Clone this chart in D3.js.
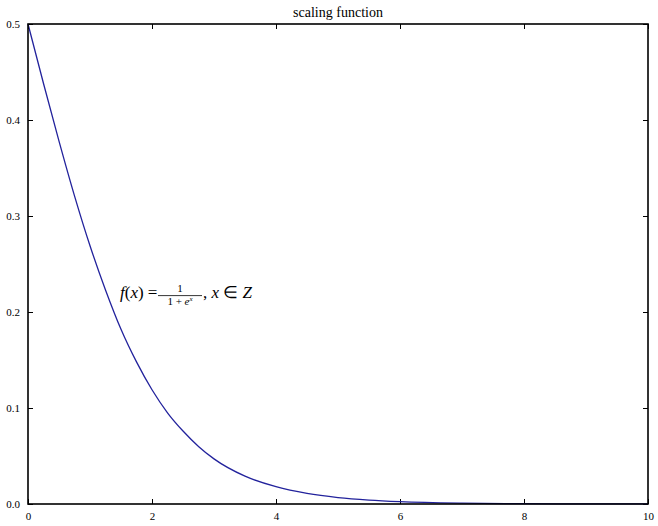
<!DOCTYPE html>
<html>
<head>
<meta charset="utf-8">
<script src="https://cdn.jsdelivr.net/npm/d3@7"></script>
<style>
body { margin: 0; background: #fff; }
text { font-family: "Times New Roman", Times, serif; }
</style>
</head>
<body>
<script>
var svgWidth = 658;
var svgHeight = 526;

var margin = { top: 24, right: 10, bottom: 22, left: 28 };

var chartWidth = svgWidth - margin.left - margin.right;
var chartHeight = svgHeight - margin.top - margin.bottom;

// values
var xValues = [0, 0.25, 0.5, 0.75, 1, 1.25, 1.5, 1.75, 2, 2.25, 2.5, 2.75, 3, 3.5, 4, 4.5, 5, 5.5, 6, 7, 8, 9, 10];
var yValues = [0.5, 0.438, 0.378, 0.321, 0.269, 0.223, 0.182, 0.148, 0.119, 0.095, 0.076, 0.060, 0.047, 0.029, 0.018, 0.011, 0.0067, 0.0041, 0.0025, 0.0009, 0.0003, 0.0001, 0.00005];
var xTicks = [0, 2, 4, 6, 8, 10];
var yTicks = [0.0, 0.1, 0.2, 0.3, 0.4, 0.5];
var title = "scaling function";

var svg = d3.select("body")
    .append("svg")
    .attr("width", svgWidth)
    .attr("height", svgHeight);

var chartGroup = svg.append("g")
    .attr("transform", `translate(${margin.left}, ${margin.top})`);

var xScale = d3.scaleLinear().domain([0, 10]).range([0, chartWidth]);
var yScale = d3.scaleLinear().domain([0, 0.5]).range([chartHeight, 0]);

var tickLen = 5;

// axes with inward ticks on all four sides
var bottomAxis = d3.axisBottom(xScale).tickValues(xTicks).tickSizeInner(-tickLen).tickSizeOuter(0)
    .tickPadding(8).tickFormat(d3.format("d"));
var topAxis = d3.axisTop(xScale).tickValues(xTicks).tickSizeInner(-tickLen).tickSizeOuter(0).tickFormat("");
var leftAxis = d3.axisLeft(yScale).tickValues(yTicks).tickSizeInner(-tickLen).tickSizeOuter(0)
    .tickPadding(8).tickFormat(d3.format(".1f"));
var rightAxis = d3.axisRight(yScale).tickValues(yTicks).tickSizeInner(-tickLen).tickSizeOuter(0).tickFormat("");

chartGroup.append("g").attr("transform", "translate(0," + chartHeight + ")").call(bottomAxis);
chartGroup.append("g").call(topAxis);
chartGroup.append("g").call(leftAxis);
chartGroup.append("g").attr("transform", "translate(" + chartWidth + ",0)").call(rightAxis);

chartGroup.selectAll(".domain").remove();
chartGroup.selectAll(".tick line").attr("stroke", "#000").attr("stroke-width", 1);
chartGroup.selectAll(".tick text").attr("fill", "#000")
    .style("font-size", "11px")
    .style("font-family", "'Times New Roman', Times, serif");

var line = d3.line()
    .x((d, i) => xScale(xValues[i]))
    .y(d => yScale(d))
    .curve(d3.curveMonotoneX);

chartGroup.append("path")
    .datum(yValues)
    .attr("fill", "none")
    .attr("stroke", "#22229c")
    .attr("stroke-width", 1.3)
    .attr("d", line);

// frame
chartGroup.append("rect")
    .attr("width", chartWidth)
    .attr("height", chartHeight)
    .attr("fill", "none")
    .attr("stroke", "#000")
    .attr("stroke-width", 1.6);

svg.append("text")
    .attr("x", margin.left + chartWidth / 2)
    .attr("y", 17)
    .attr("text-anchor", "middle")
    .style("font-size", "14px")
    .text(title);

// annotation f(x) = 1/(1+e^x), x ∈ Z
var note = chartGroup.append("g")
    .attr("transform", `translate(${xScale(1.5) - 1}, ${yScale(0.215)})`);

note.append("text")
    .style("font-size", "17px")
    .attr("font-style", "italic")
    .html('f<tspan font-style="normal">(</tspan>x<tspan font-style="normal">) =</tspan>');

var frac = note.append("g").attr("transform", "translate(38,0)");
frac.append("text").attr("x", 22).attr("y", -6).attr("text-anchor", "middle")
    .style("font-size", "11px").text("1");
frac.append("line").attr("x1", 0).attr("x2", 44).attr("y1", -2).attr("y2", -2)
    .attr("stroke", "#000").attr("stroke-width", 0.8);
frac.append("text").attr("x", 22).attr("y", 7).attr("text-anchor", "middle")
    .style("font-size", "11px")
    .html('1 + <tspan font-style="italic">e</tspan><tspan font-style="italic" font-size="7" dy="-4">x</tspan>');

note.append("text")
    .attr("x", 83)
    .style("font-size", "17px")
    .html(',<tspan font-style="italic"> x</tspan> ∈ <tspan font-style="italic">Z</tspan>');
</script>
</body>
</html>
